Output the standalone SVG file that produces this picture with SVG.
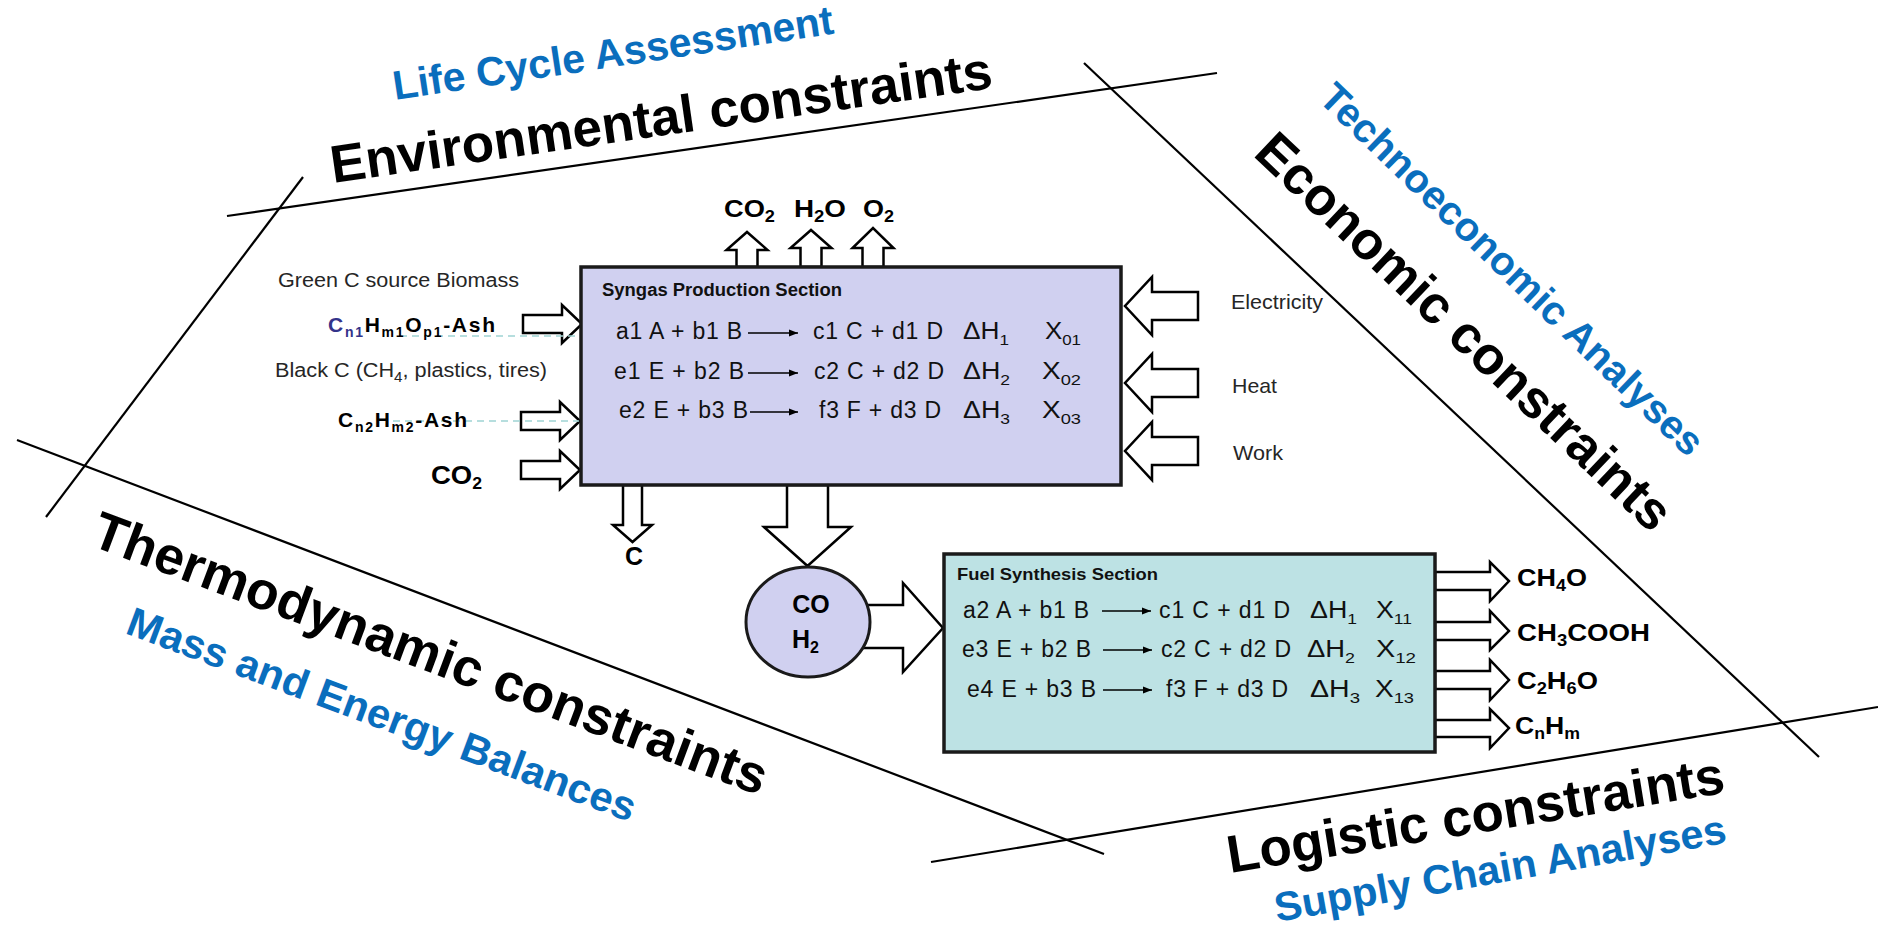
<svg xmlns="http://www.w3.org/2000/svg" width="1878" height="931" viewBox="0 0 1878 931">
<style>
text{font-family:"Liberation Sans",Arial,sans-serif;}
.big{font-size:53px;font-weight:bold;fill:#000;}
.blue{font-size:41px;font-weight:bold;fill:#0A6EBD;}
.bnd{stroke:#000;stroke-width:2.2;fill:none;}
.arr{fill:#fff;stroke:#000;stroke-width:2.5;stroke-linejoin:miter;}
.box{stroke:#1a1a1a;stroke-width:3.5;}
.rx{font-size:23px;fill:#111;}
.sub{font-size:15px;}
.ttl{font-size:18px;font-weight:bold;fill:#111;}
.lbl{font-size:20px;fill:#262626;}
.fb{font-size:24px;font-weight:bold;fill:#000;}
.rl{stroke:#000;stroke-width:1.6;marker-end:url(#ah);}
.dash{stroke:#9fd3d3;stroke-width:1.6;stroke-dasharray:7 5;fill:none;}
</style>
<defs>
<marker id="ah" markerUnits="userSpaceOnUse" markerWidth="10" markerHeight="8" refX="9" refY="4" orient="auto">
<path d="M0,0.5 L9,4 L0,7.5 z" fill="#000"/>
</marker>
</defs>
<rect width="1878" height="931" fill="#fff"/>

<g id="boundaries">
<line class="bnd" x1="227" y1="216" x2="1217" y2="73"/>
<line class="bnd" x1="303" y1="177" x2="46" y2="517"/>
<line class="bnd" x1="17" y1="440" x2="1104" y2="854"/>
<line class="bnd" x1="931" y1="862" x2="1878" y2="707"/>
<line class="bnd" x1="1084" y1="63" x2="1819" y2="757"/>
</g>

<g id="constraint-labels">
<text class="blue" transform="translate(395,100) rotate(-8.6)" textLength="445" lengthAdjust="spacingAndGlyphs">Life Cycle Assessment</text>
<text class="big" transform="translate(333,183) rotate(-8.2)" textLength="668" lengthAdjust="spacingAndGlyphs">Environmental constraints</text>
<text class="blue" style="font-size:40px" transform="translate(1317,100) rotate(44)" textLength="516" lengthAdjust="spacingAndGlyphs">Technoeconomic Analyses</text>
<text class="big" transform="translate(1252,155) rotate(43.5)" textLength="551" lengthAdjust="spacingAndGlyphs">Economic constraints</text>
<text class="big" transform="translate(89,545) rotate(20.5)" textLength="716" lengthAdjust="spacingAndGlyphs">Thermodynamic constraints</text>
<text class="blue" transform="translate(124,633) rotate(20.5)" textLength="540" lengthAdjust="spacingAndGlyphs">Mass and Energy Balances</text>
<text class="big" transform="translate(1230,873) rotate(-9.2)" textLength="503" lengthAdjust="spacingAndGlyphs">Logistic constraints</text>
<text class="blue" transform="translate(1277,922) rotate(-10)" textLength="458" lengthAdjust="spacingAndGlyphs">Supply Chain Analyses</text>
</g>

<g id="connectors">
<polygon class="arr" points="523,315 562,315 562,305 582,324 562,343 562,333 523,333"/>
<polygon class="arr" points="521,412 560,412 560,402 580,421 560,440 560,430 521,430"/>
<polygon class="arr" points="521,461 560,461 560,451 580,470 560,489 560,479 521,479"/>
<polygon class="arr" points="736.5,267 736.5,250 726.5,250 747,232 767.5,250 757.5,250 757.5,267"/>
<polygon class="arr" points="800.5,267 800.5,248 790.5,248 811,230 831.5,248 821.5,248 821.5,267"/>
<polygon class="arr" points="862.5,267 862.5,248 852.5,248 873,228 893.5,248 883.5,248 883.5,267"/>
<polygon class="arr" points="1198,292 1152,292 1152,277 1125,306 1152,335 1152,320 1198,320"/>
<polygon class="arr" points="1198,369 1152,369 1152,354 1125,383 1152,412 1152,397 1198,397"/>
<polygon class="arr" points="1198,437 1152,437 1152,422 1125,451 1152,480 1152,465 1198,465"/>
<polygon class="arr" points="623,485 623,525 613,525 632.5,542 652,525 642,525 642,485"/>
<polygon class="arr" points="787,485 787,527 764,527 807.5,566 851,527 828,527 828,485"/>
<polygon class="arr" points="850,605 903,605 903,583 943,628 903,672 903,648 850,648"/>
<polygon class="arr" points="1435,572 1490,572 1490,562 1509,581 1490,601 1490,590 1435,590"/>
<polygon class="arr" points="1435,622 1490,622 1490,611 1509,631 1490,650 1490,640 1435,640"/>
<polygon class="arr" points="1435,671 1490,671 1490,660 1509,680 1490,700 1490,689 1435,689"/>
<polygon class="arr" points="1435,720 1490,720 1490,709 1509,728 1490,748 1490,737 1435,737"/>
<line class="dash" x1="400" y1="336" x2="581" y2="336"/>
<line class="dash" x1="393" y1="421" x2="579" y2="421"/>
</g>

<g id="feedstock-labels">
<text class="lbl" x="278" y="287" textLength="241" lengthAdjust="spacingAndGlyphs">Green C source Biomass</text>
<text x="328" y="332" style="font-size:21px;font-weight:bold" fill="#000" textLength="167" lengthAdjust="spacing"><tspan fill="#33338a">C</tspan><tspan fill="#33338a" font-size="14" dy="5">n1</tspan><tspan dy="-5">H</tspan><tspan font-size="14" dy="5">m1</tspan><tspan dy="-5">O</tspan><tspan font-size="14" dy="5">p1</tspan><tspan dy="-5">-Ash</tspan></text>
<text class="lbl" x="275" y="377" textLength="272" lengthAdjust="spacingAndGlyphs">Black C (CH<tspan font-size="14" dy="5">4</tspan><tspan dy="-5">, plastics, tires)</tspan></text>
<text x="338" y="427" style="font-size:21px;font-weight:bold" fill="#000" textLength="129" lengthAdjust="spacing">C<tspan font-size="14" dy="5">n2</tspan><tspan dy="-5">H</tspan><tspan font-size="14" dy="5">m2</tspan><tspan dy="-5">-Ash</tspan></text>
<text class="fb" x="431" y="484" style="font-size:25px" textLength="51" lengthAdjust="spacingAndGlyphs">CO<tspan font-size="16" dy="5">2</tspan></text>
</g>

<g id="top-labels">
<text class="fb" x="724" y="217" textLength="51" lengthAdjust="spacingAndGlyphs">CO<tspan font-size="16" dy="5">2</tspan></text>
<text class="fb" x="794" y="217" textLength="52" lengthAdjust="spacingAndGlyphs">H<tspan font-size="16" dy="5">2</tspan><tspan dy="-5">O</tspan></text>
<text class="fb" x="863" y="217" textLength="31" lengthAdjust="spacingAndGlyphs">O<tspan font-size="16" dy="5">2</tspan></text>
</g>

<g id="energy-labels">
<text class="lbl" style="font-size:21px" x="1231" y="309" textLength="92" lengthAdjust="spacingAndGlyphs">Electricity</text>
<text class="lbl" style="font-size:21px" x="1232" y="393" textLength="45" lengthAdjust="spacingAndGlyphs">Heat</text>
<text class="lbl" style="font-size:21px" x="1233" y="460" textLength="50" lengthAdjust="spacingAndGlyphs">Work</text>
</g>

<g id="syngas-section">
<rect class="box" x="581" y="267" width="540" height="218" fill="#d0d0f0"/>
<text class="ttl" x="602" y="296" textLength="240" lengthAdjust="spacingAndGlyphs">Syngas Production Section</text>
<text class="rx" x="616" y="339" textLength="126" lengthAdjust="spacing">a1 A + b1 B</text>
<line class="rl" x1="748" y1="333" x2="798" y2="333"/>
<text class="rx" x="813" y="339" textLength="130" lengthAdjust="spacing">c1 C + d1 D</text>
<text class="rx" x="963" y="339" textLength="46" lengthAdjust="spacingAndGlyphs">ΔH<tspan class="sub" dy="6">1</tspan></text>
<text class="rx" x="1045" y="339" textLength="36" lengthAdjust="spacingAndGlyphs">X<tspan class="sub" dy="6">01</tspan></text>

<text class="rx" x="614" y="379" textLength="130" lengthAdjust="spacing">e1 E + b2 B</text>
<line class="rl" x1="748" y1="373" x2="798" y2="373"/>
<text class="rx" x="814" y="379" textLength="130" lengthAdjust="spacing">c2 C + d2 D</text>
<text class="rx" x="963" y="379" textLength="47" lengthAdjust="spacingAndGlyphs">ΔH<tspan class="sub" dy="6">2</tspan></text>
<text class="rx" x="1042" y="379" textLength="39" lengthAdjust="spacingAndGlyphs">X<tspan class="sub" dy="6">02</tspan></text>

<text class="rx" x="619" y="418" textLength="129" lengthAdjust="spacing">e2 E + b3 B</text>
<line class="rl" x1="750" y1="412" x2="798" y2="412"/>
<text class="rx" x="819" y="418" textLength="122" lengthAdjust="spacing">f3 F + d3 D</text>
<text class="rx" x="963" y="418" textLength="47" lengthAdjust="spacingAndGlyphs">ΔH<tspan class="sub" dy="6">3</tspan></text>
<text class="rx" x="1042" y="418" textLength="39" lengthAdjust="spacingAndGlyphs">X<tspan class="sub" dy="6">03</tspan></text>
</g>

<g id="c-output">
<text class="fb" x="625" y="565" style="font-size:25px">C</text>
</g>

<g id="syngas-node">
<ellipse cx="808" cy="622" rx="62" ry="55" fill="#d0d0f0" stroke="#1a1a1a" stroke-width="3"/>
<text class="fb" x="811" y="613" text-anchor="middle" style="font-size:25px">CO</text>
<text class="fb" x="792" y="648" style="font-size:25px">H<tspan font-size="16" dy="5">2</tspan></text>
</g>

<g id="fuel-section">
<rect class="box" x="944" y="554" width="491" height="198" fill="#bde2e4"/>
<text class="ttl" style="font-size:17px" x="957" y="580" textLength="201" lengthAdjust="spacingAndGlyphs">Fuel Synthesis Section</text>
<text class="rx" x="963" y="618" textLength="126" lengthAdjust="spacing">a2 A + b1 B</text>
<line class="rl" x1="1102" y1="611" x2="1151" y2="611"/>
<text class="rx" x="1159" y="618" textLength="131" lengthAdjust="spacing">c1 C + d1 D</text>
<text class="rx" x="1310" y="618" textLength="47" lengthAdjust="spacingAndGlyphs">ΔH<tspan class="sub" dy="6">1</tspan></text>
<text class="rx" x="1376" y="618" textLength="36" lengthAdjust="spacingAndGlyphs">X<tspan class="sub" dy="6">11</tspan></text>

<text class="rx" x="962" y="657" textLength="129" lengthAdjust="spacing">e3 E + b2 B</text>
<line class="rl" x1="1103" y1="650" x2="1152" y2="650"/>
<text class="rx" x="1161" y="657" textLength="130" lengthAdjust="spacing">c2 C + d2 D</text>
<text class="rx" x="1307" y="657" textLength="48" lengthAdjust="spacingAndGlyphs">ΔH<tspan class="sub" dy="6">2</tspan></text>
<text class="rx" x="1376" y="657" textLength="40" lengthAdjust="spacingAndGlyphs">X<tspan class="sub" dy="6">12</tspan></text>

<text class="rx" x="967" y="697" textLength="129" lengthAdjust="spacing">e4 E + b3 B</text>
<line class="rl" x1="1103" y1="690" x2="1152" y2="690"/>
<text class="rx" x="1166" y="697" textLength="122" lengthAdjust="spacing">f3 F + d3 D</text>
<text class="rx" x="1310" y="697" textLength="50" lengthAdjust="spacingAndGlyphs">ΔH<tspan class="sub" dy="6">3</tspan></text>
<text class="rx" x="1375" y="697" textLength="39" lengthAdjust="spacingAndGlyphs">X<tspan class="sub" dy="6">13</tspan></text>
</g>

<g id="fuel-products">
<text class="fb" x="1517" y="586" textLength="70" lengthAdjust="spacingAndGlyphs">CH<tspan font-size="16" dy="5">4</tspan><tspan dy="-5">O</tspan></text>
<text class="fb" x="1517" y="641" textLength="133" lengthAdjust="spacingAndGlyphs">CH<tspan font-size="16" dy="5">3</tspan><tspan dy="-5">COOH</tspan></text>
<text class="fb" x="1517" y="689" textLength="81" lengthAdjust="spacingAndGlyphs">C<tspan font-size="16" dy="5">2</tspan><tspan dy="-5">H</tspan><tspan font-size="16" dy="5">6</tspan><tspan dy="-5">O</tspan></text>
<text class="fb" x="1515" y="734" textLength="65" lengthAdjust="spacingAndGlyphs">C<tspan font-size="16" dy="5">n</tspan><tspan dy="-5">H</tspan><tspan font-size="16" dy="5">m</tspan></text>
</g>
</svg>
